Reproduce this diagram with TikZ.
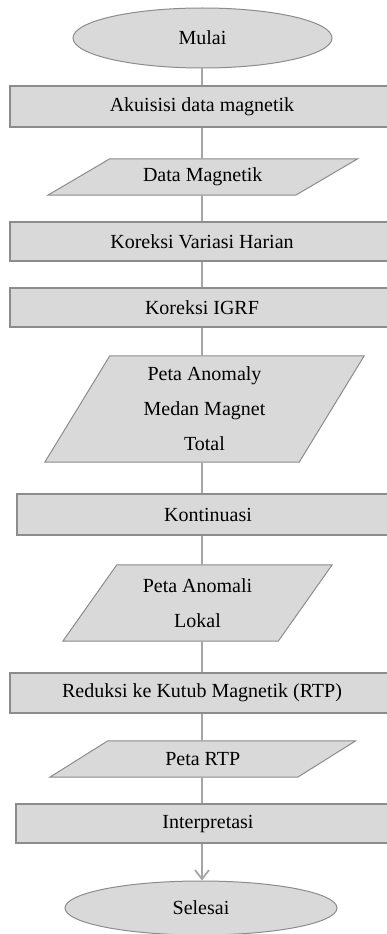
\documentclass[tikz,border=0pt]{standalone}
\usepackage{fontspec}
\setmainfont{Liberation Serif}
\usetikzlibrary{shapes.geometric,arrows.meta,backgrounds}
\definecolor{boxfill}{HTML}{D9D9D9}
\definecolor{boxline}{HTML}{8C8C8C}
\definecolor{connline}{HTML}{A6A6A6}
\tikzset{
  lbl/.style={font=\fontsize{20}{35}\selectfont, align=center, inner sep=0pt},
  terminal/.style={lbl, ellipse, draw=boxline, line width=1pt, fill=boxfill},
  procbox/.style={lbl, rectangle, draw=boxline, line width=1.6pt, fill=boxfill},
  databox/.style={lbl, rectangle},
  paraback/.style={draw=boxline, line width=1pt, fill=boxfill},
  conn/.style={draw=connline, line width=1.8pt},
}
\begin{document}
\begin{tikzpicture}[x=1pt,y=-1pt]
\useasboundingbox (0,0) rectangle (387,934);
\clip (0,0) rectangle (387,934);
\coordinate (spine) at (202,0);

% terminals
\node[terminal, minimum width=259pt, minimum height=60pt] (mulai) at (202.5,38) {Mulai};
\node[terminal, minimum width=272pt, minimum height=54pt] (selesai) at (201,908) {Selesai};

% process boxes (extend past right edge)
\node[procbox, minimum width=384pt, minimum height=41pt] (akuisisi) at (202,106.5) {Akuisisi data magnetik};
\node[procbox, minimum width=384pt, minimum height=39pt] (kvh) at (202,241.5) {Koreksi Variasi Harian};
\node[procbox, minimum width=384pt, minimum height=39pt] (igrf) at (202,307.5) {Koreksi IGRF};
\node[procbox, minimum width=382pt, minimum height=41pt] (kont) at (208,514.5) {Kontinuasi};
\node[procbox, minimum width=384pt, minimum height=40pt] (rtp) at (202,693) {Reduksi ke Kutub Magnetik (RTP)};
\node[procbox, minimum width=384pt, minimum height=39pt] (interp) at (208,823.5) {Interpretasi};

% data (parallelogram) nodes
\node[databox, minimum width=247.5pt, minimum height=36pt] (data) at (202.75,177) {Data Magnetik};
\node[databox, minimum width=254pt, minimum height=106pt] (anomaly) at (204.5,409) {Peta Anomaly\\Medan Magnet\\Total};
\node[databox, minimum width=215pt, minimum height=76pt] (lokal) at (197.5,603) {Peta Anomali\\Lokal};
\node[databox, minimum width=247.5pt, minimum height=36pt] (petartp) at (202.75,759) {Peta RTP};

\begin{scope}[on background layer]
  \draw[paraback] ([xshift=31pt]data.north west) -- ([xshift=31pt]data.north east)
    -- ([xshift=-31pt]data.south east) -- ([xshift=-31pt]data.south west) -- cycle;
  \draw[paraback] ([xshift=32.5pt]anomaly.north west) -- ([xshift=32.5pt]anomaly.north east)
    -- ([xshift=-32.5pt]anomaly.south east) -- ([xshift=-32.5pt]anomaly.south west) -- cycle;
  \draw[paraback] ([xshift=27pt]lokal.north west) -- ([xshift=27pt]lokal.north east)
    -- ([xshift=-27pt]lokal.south east) -- ([xshift=-27pt]lokal.south west) -- cycle;
  \draw[paraback] ([xshift=29pt]petartp.north west) -- ([xshift=29pt]petartp.north east)
    -- ([xshift=-29pt]petartp.south east) -- ([xshift=-29pt]petartp.south west) -- cycle;
\end{scope}

% connectors
\draw[conn] (spine |- mulai.south) -- (spine |- akuisisi.north);
\draw[conn] (spine |- akuisisi.south) -- (spine |- data.north);
\draw[conn] (spine |- data.south) -- (spine |- kvh.north);
\draw[conn] (spine |- kvh.south) -- (spine |- igrf.north);
\draw[conn] (spine |- igrf.south) -- (spine |- anomaly.north);
\draw[conn] (spine |- anomaly.south) -- (spine |- kont.north);
\draw[conn] (spine |- kont.south) -- (spine |- lokal.north);
\draw[conn] (spine |- lokal.south) -- (spine |- rtp.north);
\draw[conn] (spine |- rtp.south) -- (spine |- petartp.north);
\draw[conn] (spine |- petartp.south) -- (spine |- interp.north);
\draw[conn, -{Straight Barb[length=9pt,width=14pt,line width=1.8pt]}] (spine |- interp.south) -- (spine |- selesai.north);
\end{tikzpicture}
\end{document}
